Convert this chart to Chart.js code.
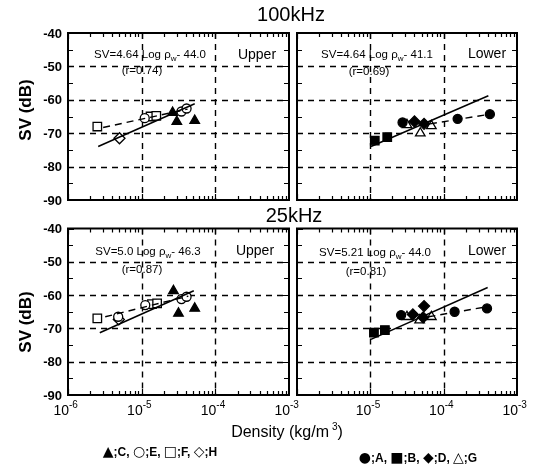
<!DOCTYPE html>
<html>
<head>
<meta charset="utf-8">
<script src="https://cdn.jsdelivr.net/npm/chart.js@4.4.1/dist/chart.umd.min.js"></script>
<style>
  body { margin: 0; background: #fff; }
  #fig { position: relative; width: 534px; height: 466px; overflow: hidden;
         font-family: "Liberation Sans", Arial, sans-serif; color: #000; }
  #fig canvas { position: absolute; left: 0; top: 0; }
  .t { position: absolute; white-space: nowrap; line-height: 1; transform: translate(-50%, -50%); }
  .eq { font-size: 11.5px; }
  .eq sub { font-size: 8px; vertical-align: -3px; line-height: 0; }
  .tag { font-size: 14px; }
  .title { font-size: 20px; }
  .ylab { font-size: 17px; font-weight: bold; transform: translate(-50%, -50%) rotate(-90deg); }
  .leg { font-size: 12px; font-weight: bold; }
  .leg span { font-size: 14px; font-weight: normal; font-family: "DejaVu Sans", sans-serif; }
</style>
</head>
<body>
<div id="fig">
  <canvas id="p100u" width="534" height="466"></canvas>
  <canvas id="p100l" width="534" height="466"></canvas>
  <canvas id="p25u" width="534" height="466"></canvas>
  <canvas id="p25l" width="534" height="466"></canvas>

  <div class="t title" style="left:291px;top:14px">100kHz</div>
  <div class="t title" style="left:294px;top:215px">25kHz</div>
  <div class="t ylab" style="left:25px;top:110px">SV (dB)</div>
  <div class="t ylab" style="left:25px;top:322px">SV (dB)</div>

  <div class="t eq" style="left:150px;top:55px">SV=4.64 Log &rho;<sub>w</sub>- 44.0</div>
  <div class="t eq" style="left:142px;top:71px">(r=0.74)</div>
  <div class="t tag" style="left:257px;top:54px">Upper</div>

  <div class="t eq" style="left:377px;top:55px">SV=4.64 Log &rho;<sub>w</sub>- 41.1</div>
  <div class="t eq" style="left:369px;top:72px">(r=0.69)</div>
  <div class="t tag" style="left:487px;top:53px">Lower</div>

  <div class="t eq" style="left:148px;top:252px">SV=5.0 Log &rho;<sub>w</sub>- 46.3</div>
  <div class="t eq" style="left:142px;top:270px">(r=0.87)</div>
  <div class="t tag" style="left:255px;top:250px">Upper</div>

  <div class="t eq" style="left:375px;top:253px">SV=5.21 Log &rho;<sub>w</sub>- 44.0</div>
  <div class="t eq" style="left:366px;top:272px">(r=0.81)</div>
  <div class="t tag" style="left:487px;top:250px">Lower</div>

  <div class="t" style="left:287px;top:431px;font-size:16px">Density (kg/m<sup style="font-size:10px;margin-left:3px">3</sup>)</div>
  <div class="t leg" style="left:160px;top:451px"><span>&#9650;</span>;C, <span>&#9675;</span>;E, <span>&#9633;</span>;F, <span>&#9671;</span>;H</div>
  <div class="t leg" style="left:418px;top:457px"><span>&#9679;</span>;A, <span>&#9632;</span>;B, <span>&#9670;</span>;D, <span>&#9651;</span>;G</div>
</div>

<script>
// ---- 100 kHz, upper layer: density (kg/m^3) and SV (dB) per station group
const u100_C_x = [2.63e-5, 3.0e-5, 5.25e-5];
const u100_C_y = [-63.8, -66.5, -66.2];
const u100_E_x = [1.1e-5, 3.47e-5, 4.07e-5];
const u100_E_y = [-65.5, -63.5, -62.6];
const u100_F_x = [2.5e-6, 1.32e-5, 1.58e-5];
const u100_F_y = [-68.0, -65.0, -64.8];
const u100_H_x = [5.0e-6];
const u100_H_y = [-71.5];
const u100_fit_x = [2.57e-6, 5.25e-5];
const u100_fit_y = [-74.0, -61.2];
const u100_trend_x = [3.0e-6, 4.2e-5];
const u100_trend_y = [-68.3, -62.8];

// ---- 100 kHz, lower layer
const l100_A_x = [2.75e-5, 1.55e-4, 4.27e-4];
const l100_A_y = [-66.8, -65.7, -64.3];
const l100_B_x = [1.15e-5, 1.7e-5];
const l100_B_y = [-72.2, -71.2];
const l100_D_x = [4.0e-5, 5.4e-5];
const l100_D_y = [-66.5, -67.2];
const l100_G_x = [3.16e-5, 4.8e-5, 6.8e-5];
const l100_G_y = [-67.5, -70.0, -67.8];
const l100_fit_x = [1.02e-5, 4.07e-4];
const l100_fit_y = [-74.0, -58.8];
const l100_trend_x = [6.5e-5, 4.27e-4];
const l100_trend_y = [-67.2, -64.3];

// ---- 25 kHz, upper layer
const u25_C_x = [2.7e-5, 3.16e-5, 5.25e-5];
const u25_C_y = [-58.7, -65.5, -64.0];
const u25_E_x = [4.8e-6, 1.12e-5, 3.47e-5, 4.07e-5];
const u25_E_y = [-66.5, -63.0, -61.2, -60.5];
const u25_F_x = [2.5e-6, 1.38e-5, 1.62e-5];
const u25_F_y = [-67.0, -62.7, -62.5];
const u25_H_x = [4.9e-6];
const u25_H_y = [-67.3];
const u25_fit_x = [2.7e-6, 5.1e-5];
const u25_fit_y = [-71.3, -58.7];
const u25_trend_x = [3.2e-6, 4.3e-5];
const u25_trend_y = [-66.5, -60.3];

// ---- 25 kHz, lower layer
const l25_A_x = [2.63e-5, 1.41e-4, 3.9e-4];
const l25_A_y = [-66.0, -65.0, -64.0];
const l25_B_x = [1.12e-5, 1.58e-5];
const l25_B_y = [-71.3, -70.5];
const l25_D_x = [3.8e-5, 5.4e-5, 5.25e-5];
const l25_D_y = [-65.8, -63.3, -66.7];
const l25_G_x = [3.16e-5, 4.7e-5, 6.8e-5];
const l25_G_y = [-66.5, -67.5, -66.5];
const l25_fit_x = [1.02e-5, 3.98e-4];
const l25_fit_y = [-73.3, -57.7];
const l25_trend_x = [6.2e-5, 3.9e-4];
const l25_trend_y = [-66.5, -63.5];

// axis ticks
const yTickValues = [-40, -50, -60, -70, -80, -90];
const yGridValues = [-50, -60, -70, -80];
const xGridValues = [1e-5, 1e-4];
const xDecades = [-6, -5, -4, -3];

const zip = (xs, ys) => xs.map((x, i) => ({ x, y: ys[i] }));

const marker = (xs, ys, style, filled, radius) => ({
  data: zip(xs, ys), pointStyle: style, pointRadius: radius,
  pointBackgroundColor: filled ? '#000' : '#fff', pointBorderColor: '#000',
  pointBorderWidth: 1.3, showLine: false, order: 1
});
const fitLine = (xs, ys) => ({
  data: zip(xs, ys), showLine: true, pointRadius: 0, borderColor: '#000',
  borderWidth: 1.5, fill: false, order: 0
});
const trendLine = (xs, ys) => ({
  data: zip(xs, ys), showLine: true, pointRadius: 0, borderColor: '#000',
  borderWidth: 1.4, borderDash: [7, 5], fill: false, order: 0
});

// frame, inward ticks, dashed grid and tick labels
const panelFrame = {
  id: 'panelFrame',
  beforeDatasetsDraw(chart, args, o) {
    const { ctx, chartArea: a, scales: { x, y } } = chart;
    ctx.save();
    ctx.strokeStyle = '#000';
    ctx.lineWidth = 1.4;
    ctx.setLineDash([6, 5]);
    ctx.beginPath();
    yGridValues.forEach(v => {
      const py = Math.round(y.getPixelForValue(v)) + 0.5;
      ctx.moveTo(a.left, py); ctx.lineTo(a.right, py);
    });
    xGridValues.forEach(v => {
      const px = Math.round(x.getPixelForValue(v)) + 0.5;
      ctx.moveTo(px, a.top); ctx.lineTo(px, a.bottom);
    });
    ctx.stroke();
    ctx.restore();
  },
  afterDatasetsDraw(chart, args, o) {
    const { ctx, chartArea: a, scales: { x, y } } = chart;
    ctx.save();
    ctx.strokeStyle = '#000';
    ctx.lineWidth = 1.2;
    ctx.beginPath();
    for (let v = -90; v <= -40; v += 5) {
      const py = Math.round(y.getPixelForValue(v)) + 0.5;
      const len = v % 10 === 0 ? 6 : 5;
      ctx.moveTo(a.left, py); ctx.lineTo(a.left + len, py);
      ctx.moveTo(a.right, py); ctx.lineTo(a.right - len, py);
    }
    for (let d = -6; d <= -4; d++) {
      for (let m = 1; m <= 9; m++) {
        const px = Math.round(x.getPixelForValue(m * Math.pow(10, d))) + 0.5;
        const len = m === 1 ? 6 : 4;
        ctx.moveTo(px, a.top); ctx.lineTo(px, a.top + len);
        ctx.moveTo(px, a.bottom); ctx.lineTo(px, a.bottom - len);
      }
    }
    ctx.stroke();
    ctx.lineWidth = 2;
    ctx.strokeRect(a.left, a.top, a.right - a.left, a.bottom - a.top);

    ctx.fillStyle = '#000';
    if (o.yLabels) {
      ctx.font = 'bold 13px "Liberation Sans", Arial, sans-serif';
      ctx.textAlign = 'right';
      ctx.textBaseline = 'middle';
      yTickValues.forEach(v => {
        ctx.fillText(String(v), a.left - 6, y.getPixelForValue(v) + 1);
      });
    }
    if (o.xLabels) {
      ctx.textBaseline = 'alphabetic';
      o.xLabels.forEach(d => {
        const px = x.getPixelForValue(Math.pow(10, d));
        ctx.font = '14px "Liberation Sans", Arial, sans-serif';
        ctx.textAlign = 'right';
        ctx.fillText('10', px + 1, a.bottom + 20);
        ctx.font = '10px "Liberation Sans", Arial, sans-serif';
        ctx.textAlign = 'left';
        ctx.fillText(String(d), px + 1, a.bottom + 13);
      });
    }
    ctx.restore();
  }
};

function panel(id, area, datasets, opts) {
  new Chart(document.getElementById(id), {
    type: 'scatter',
    data: { datasets },
    options: {
      responsive: false, animation: false, devicePixelRatio: 1, events: [],
      layout: { padding: { left: area.l, top: area.t, right: 534 - area.r, bottom: 466 - area.b } },
      plugins: { legend: { display: false }, tooltip: { enabled: false }, panelFrame: opts },
      scales: {
        x: { type: 'logarithmic', min: 1e-6, max: 1e-3, display: false },
        y: { type: 'linear', min: -90, max: -40, display: false }
      }
    },
    plugins: [panelFrame]
  });
}

const leftCol = { l: 68, r: 289 };
const rightCol = { l: 297, r: 517 };
const topRow = { t: 33, b: 200 };
const botRow = { t: 228.5, b: 395 };

panel('p100u', { ...leftCol, ...topRow }, [
  fitLine(u100_fit_x, u100_fit_y), trendLine(u100_trend_x, u100_trend_y),
  marker(u100_C_x, u100_C_y, 'triangle', true, 5.5),
  marker(u100_E_x, u100_E_y, 'circle', false, 4.5),
  marker(u100_F_x, u100_F_y, 'rect', false, 6),
  marker(u100_H_x, u100_H_y, 'rectRot', false, 5.5)
], { yLabels: true, xLabels: null });

panel('p100l', { ...rightCol, ...topRow }, [
  fitLine(l100_fit_x, l100_fit_y), trendLine(l100_trend_x, l100_trend_y),
  marker(l100_A_x, l100_A_y, 'circle', true, 4.5),
  marker(l100_B_x, l100_B_y, 'rect', true, 6),
  marker(l100_D_x, l100_D_y, 'rectRot', true, 5.5),
  marker(l100_G_x, l100_G_y, 'triangle', false, 5.5)
], { yLabels: false, xLabels: null });

panel('p25u', { ...leftCol, ...botRow }, [
  fitLine(u25_fit_x, u25_fit_y), trendLine(u25_trend_x, u25_trend_y),
  marker(u25_C_x, u25_C_y, 'triangle', true, 5.5),
  marker(u25_E_x, u25_E_y, 'circle', false, 4.5),
  marker(u25_F_x, u25_F_y, 'rect', false, 6),
  marker(u25_H_x, u25_H_y, 'rectRot', false, 5.5)
], { yLabels: true, xLabels: xDecades });

panel('p25l', { ...rightCol, ...botRow }, [
  fitLine(l25_fit_x, l25_fit_y), trendLine(l25_trend_x, l25_trend_y),
  marker(l25_A_x, l25_A_y, 'circle', true, 4.5),
  marker(l25_B_x, l25_B_y, 'rect', true, 6),
  marker(l25_D_x, l25_D_y, 'rectRot', true, 5.5),
  marker(l25_G_x, l25_G_y, 'triangle', false, 5.5)
], { yLabels: false, xLabels: xDecades.slice(1) });
</script>
</body>
</html>
